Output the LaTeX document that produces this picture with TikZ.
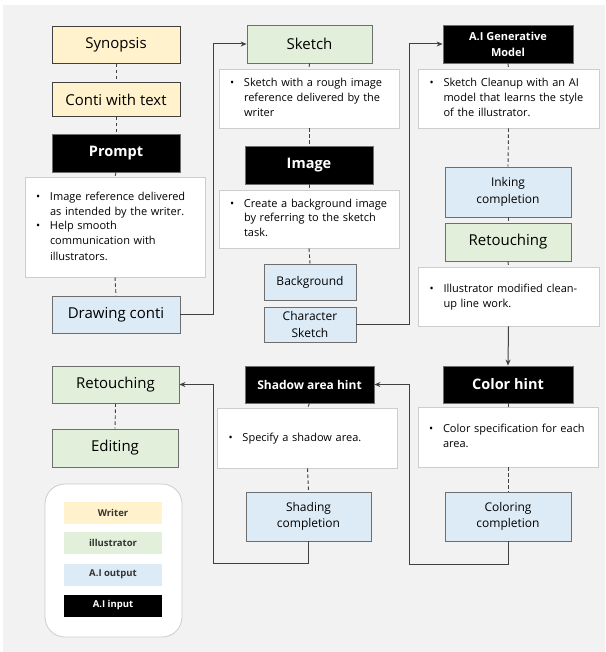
\documentclass[tikz,border=0pt]{standalone}
\usepackage{fontspec}
\setmainfont{Open Sans}
\usepackage{tikz}
\usetikzlibrary{arrows.meta}
\definecolor{bggray}{RGB}{242,242,242}
\definecolor{writer}{RGB}{255,242,204}
\definecolor{illus}{RGB}{226,239,218}
\definecolor{aiout}{RGB}{221,235,247}
\definecolor{edgegray}{RGB}{64,64,64}
\definecolor{boxgray}{RGB}{110,110,110}
\definecolor{descgray}{RGB}{205,205,205}
\definecolor{labelgray}{RGB}{51,51,51}

\newcommand{\bl}{\textbullet}
\newcommand{\desc}[1]{\begin{tabular}{@{}p{14pt}@{}l@{}}#1\end{tabular}}

\begin{document}
\begin{tikzpicture}[x=1pt, y=-1pt,
  stage/.style={draw=boxgray, line width=0.8pt, inner sep=0pt, align=center,
    minimum width=128pt, minimum height=37pt, font=\fontsize{15}{18}\selectfont},
  small/.style={font=\fontsize{12}{16.5}\selectfont},
  wbox/.style={stage, fill=writer, draw=edgegray},
  ibox/.style={stage, fill=illus},
  obox/.style={stage, fill=aiout},
  abox/.style={stage, fill=black, text=white, font=\fontsize{14.5}{18}\bfseries\selectfont},
  descbox/.style={draw=descgray, fill=white, line width=0.6pt, inner xsep=11pt, inner ysep=0pt,
    minimum width=180pt, text width=158pt, align=left, font=\fontsize{11}{15}\selectfont},
  key/.style={inner sep=0pt, minimum width=98pt, minimum height=22pt,
    font=\fontsize{9.5}{11}\bfseries\selectfont, text=labelgray},
  link/.style={draw=edgegray, line width=0.9pt, dash pattern=on 3.5pt off 2.5pt},
  flow/.style={draw=edgegray, line width=1pt, -{Stealth[length=6pt, width=5pt]}}
]

% --- page ---
\useasboundingbox (0,0) rectangle (605,652);
\fill[white] (0,0) rectangle (605,652);
\fill[bggray] (3,5) rectangle (605,652);

% --- column 1: writer ---
\node[wbox] (syn) at (116,45) {Synopsis};
\node[wbox, minimum height=34pt] (conti) at (116,99.5) {Conti with text};
\node[abox, minimum height=38pt] (prompt) at (116,153) {Prompt};
\node[descbox, minimum height=100pt] (pdesc) at (115,227)
  {\desc{\bl & Image reference delivered\\ & as intended by the writer.\\
         \bl & Help smooth\\ & communication with\\ & illustrators.}};
\node[obox] (dconti) at (116,314.5) {Drawing conti};

% --- column 2: sketch ---
\node[ibox, minimum width=125pt, minimum height=38pt] (sketch) at (309.5,44) {Sketch};
\node[descbox, minimum height=59pt] (sdesc) at (309,98.5)
  {\desc{\bl & Sketch with a rough image\\ & reference delivered by the\\ & writer}};
\node[abox, minimum height=38pt] (image) at (309,165) {Image};
\node[descbox, minimum height=58pt] (idesc) at (309,219)
  {\desc{\bl & Create a background image\\ & by referring to the sketch\\ & task.}};
\node[obox, small, minimum width=92pt, minimum height=36pt] (bgd) at (310,282) {Background};
\node[obox, small, minimum width=92pt, minimum height=35pt] (chsk) at (310,324.5) {Character\\Sketch};

% --- column 3: AI model ---
\node[abox, minimum width=130pt, minimum height=38pt, font=\fontsize{11}{16}\bfseries\selectfont]
  (gen) at (508,44) {A.I Generative\\Model};
\node[descbox, minimum width=181pt, minimum height=59pt] (gdesc) at (508.5,98.5)
  {\desc{\bl & Sketch Cleanup with an AI\\ & model that learns the style\\ & of the illustrator.}};
\node[obox, small, minimum width=126pt, minimum height=50pt] (ink) at (508,192) {Inking\\completion};
\node[ibox, minimum width=126pt, minimum height=38pt] (ret) at (508,242) {Retouching};
\node[descbox, minimum width=181pt, minimum height=59pt] (udesc) at (508.5,296.5)
  {\desc{\bl & Illustrator modified clean-\\ & up line work.}};
\node[abox, minimum width=130pt] (chint) at (508,384.5) {Color hint};
\node[descbox, minimum height=60pt] (cdesc) at (508,437)
  {\desc{\bl & Color specification for each\\ & area.}};
\node[obox, small, minimum width=126pt, minimum height=49pt] (cdone) at (508,516.5) {Coloring\\completion};

% --- column 2 bottom: shadow ---
\node[abox, minimum width=129pt, font=\fontsize{12}{16}\bfseries\selectfont] (shint) at (309.5,384.5) {Shadow area hint};
\node[descbox, minimum width=179pt, minimum height=60pt] (shdesc) at (307.5,438)
  {\desc{\bl & Specify a shadow area.}};
\node[obox, small, minimum width=125pt, minimum height=49pt] (shdone) at (308.5,516.5) {Shading\\completion};

% --- column 1 bottom: finish ---
\node[ibox, minimum width=127pt] (fret) at (115.5,384.5) {Retouching};
\node[ibox, minimum width=126pt, minimum height=38pt] (edit) at (115,448) {Editing};

% --- legend ---
\filldraw[fill=white, draw=descgray, line width=0.8pt, rounded corners=20pt] (45,484) rectangle (182,637);
\node[key, fill=writer] (kw) at (113,512.5) {Writer};
\node[key, fill=illus] (ki) at (113,543) {illustrator};
\node[key, fill=aiout] (ko) at (113,574.5) {A.I output};
\node[key, fill=black, text=white] (ka) at (113,605.5) {A.I input};

% --- dashed links ---
\foreach \a/\b in {syn/conti, conti/prompt, prompt/pdesc, pdesc/dconti,
                   sketch/sdesc, sdesc/image, image/idesc, idesc/bgd,
                   gen/gdesc, gdesc/ink, ink/ret, ret/udesc,
                   chint/cdesc, cdesc/cdone, shint/shdesc, shdesc/shdone, fret/edit}
  \draw[link] (\a.south) -- (\b.north);

% --- flow arrows ---
\draw[flow] (dconti.east) -- (213,314.5) -- (213,44) -- (sketch.west);
\draw[flow] (chsk.east) -- (409,324.5) -- (409,44) -- (gen.west);
\draw[flow] (udesc.south) -- (chint.north);
\draw[flow] (cdone.south) -- (508,564) -- (409,564) -- (409,384.5) -- (shint.east);
\draw[flow] (shdone.south) -- (308.5,563) -- (213,563) -- (213,384.5) -- (fret.east);

\end{tikzpicture}
\end{document}
